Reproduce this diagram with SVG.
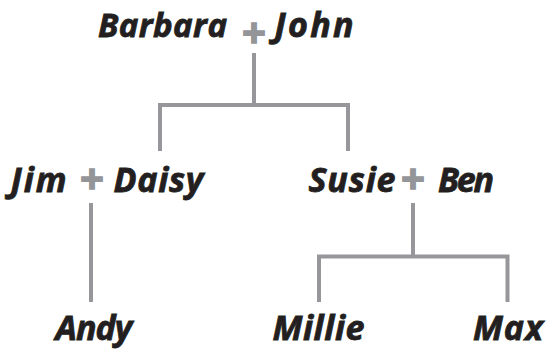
<svg xmlns="http://www.w3.org/2000/svg" width="547" height="349" viewBox="0 0 547 349">
<style>
.n{font-family:"Open Sans","DejaVu Sans",sans-serif;font-weight:700;font-style:italic;fill:#231f20;stroke:#231f20;stroke-width:0.8;text-anchor:middle}
.p{font-family:"Open Sans","DejaVu Sans",sans-serif;font-weight:700;fill:#939598;stroke:#939598;stroke-width:1.4;text-anchor:middle;font-size:42px}
.c{fill:none;stroke:#97979b;stroke-width:4;stroke-linejoin:miter;stroke-linecap:butt}
</style>
<rect width="547" height="349" fill="#ffffff"/>
<g id="connectors">
<path class="c" d="M254 53V105M160 151V105H348V151"/>
<path class="c" d="M91 203V302"/>
<path class="c" d="M413 203V256.5M319 302V256.5H507.5V302"/>
</g>
<g id="barbara-john">
<text class="n" x="162.5" y="37" font-size="33" textLength="129" lengthAdjust="spacing">Barbara</text>
<text class="p" x="254" y="48">+</text>
<text class="n" x="314" y="37" font-size="34" textLength="79" lengthAdjust="spacing">John</text>
</g>
<g id="jim-daisy">
<text class="n" x="38.5" y="192" font-size="34" textLength="56" lengthAdjust="spacing">Jim</text>
<text class="p" x="92" y="193.5">+</text>
<text class="n" x="158.5" y="192" font-size="34" textLength="90" lengthAdjust="spacing">Daisy</text>
</g>
<g id="susie-ben">
<text class="n" x="352" y="192" font-size="34" textLength="87" lengthAdjust="spacing">Susie</text>
<text class="p" x="413" y="193.5">+</text>
<text class="n" x="466" y="192" font-size="34" textLength="56" lengthAdjust="spacing">Ben</text>
</g>
<g id="andy"><text class="n" x="94" y="340" font-size="34" textLength="77" lengthAdjust="spacing">Andy</text></g>
<g id="millie"><text class="n" x="318.5" y="340" font-size="34" textLength="92" lengthAdjust="spacing">Millie</text></g>
<g id="max"><text class="n" x="508" y="340" font-size="34" textLength="70" lengthAdjust="spacing">Max</text></g>
</svg>
